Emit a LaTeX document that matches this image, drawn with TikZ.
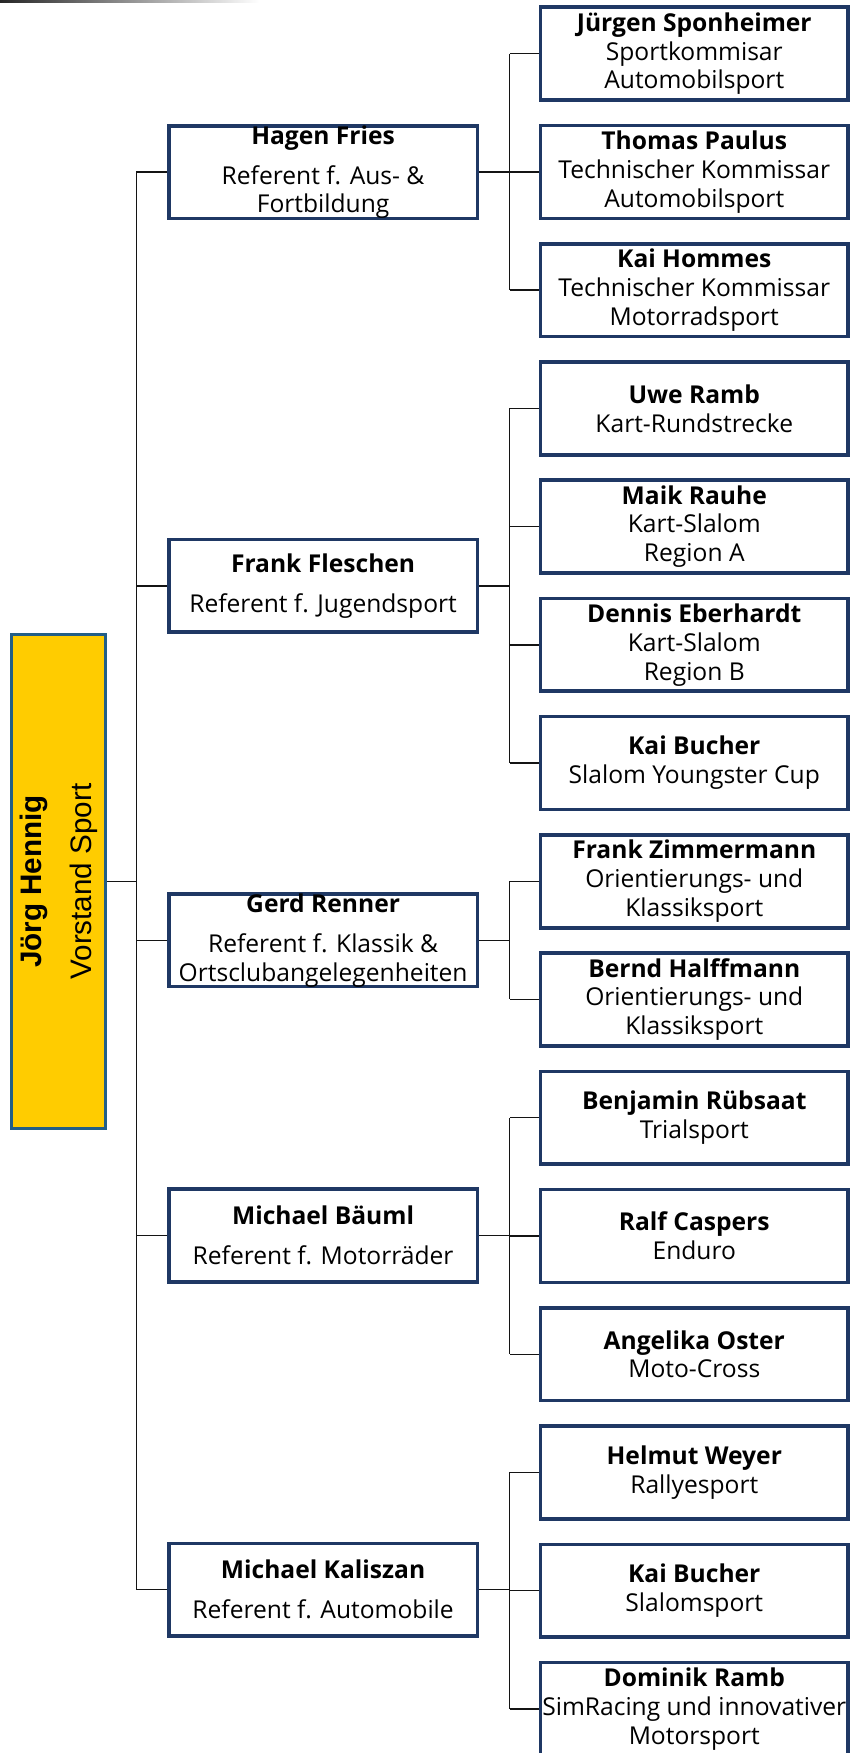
\documentclass[tikz,border=0pt]{standalone}
\usepackage{fontspec}
\setmainfont{Open Sans}
\newfontfamily\rootfont{Liberation Sans}
\definecolor{boxblue}{RGB}{31,56,100}
\definecolor{rootblue}{RGB}{34,94,135}
\definecolor{gold}{RGB}{255,204,0}
\definecolor{linegray}{RGB}{20,20,20}
\tikzset{
  midbox/.style={draw=boxblue, line width=3.2pt, fill=white, minimum width=276pt, minimum height=83pt, inner sep=0pt},
  leafbox/.style={draw=boxblue, line width=3.2pt, fill=white, minimum width=275pt, minimum height=83pt, inner sep=0pt},
  rootbox/.style={draw=rootblue, line width=3pt, fill=gold, minimum width=84pt, minimum height=442pt, inner sep=0pt},
  txt/.style={inner sep=0pt, align=center, font=\fontsize{22}{25.8}\selectfont, text=black},
  roottxt/.style={inner sep=0pt, align=center, rotate=90, font=\rootfont\fontsize{26.5}{30}\selectfont, text=black},
  conn/.style={draw=linegray, line width=1.2pt}
}
\begin{document}
\begin{tikzpicture}[x=1pt,y=-1pt]
\useasboundingbox (0,0) rectangle (761.2,1568);
\shade[left color=black!85, right color=white] (0,0) rectangle (232,2.2);

% coordinates for the vertical bus lines
\coordinate (tx) at (122,0);
\coordinate (gx) at (456,0);

% root
\node[rootbox] (root) at (52.5,788.5) {};
\node[roottxt] (roott) at (root) {\textbf{Jörg Hennig}\\[15pt]Vorstand Sport};

% middle level
\node[midbox] (m1) at (289,154) {};
\node[txt] (m1t) at (m1) {\textbf{Hagen Fries}\\[10pt]Referent f. Aus- \&\\Fortbildung};
\node[midbox] (m2) at (289,524) {};
\node[txt] (m2t) at (m2) {\textbf{Frank Fleschen}\\[10pt]Referent f. Jugendsport};
\node[midbox] (m3) at (289,841) {};
\node[txt] (m3t) at (m3) {\textbf{Gerd Renner}\\[10pt]Referent f. Klassik \&\\Ortsclubangelegenheiten};
\node[midbox] (m4) at (289,1105) {};
\node[txt] (m4t) at (m4) {\textbf{Michael Bäuml}\\[10pt]Referent f. Motorräder};
\node[midbox] (m5) at (289,1422) {};
\node[txt] (m5t) at (m5) {\textbf{Michael Kaliszan}\\[10pt]Referent f. Automobile};

% leaves
\node[leafbox] (l1) at (621,48) {};
\node[txt] (l1t) at (l1) {\textbf{Jürgen Sponheimer}\\Sportkommisar\\Automobilsport};
\node[leafbox] (l2) at (621,153.8) {};
\node[txt] (l2t) at (l2) {\textbf{Thomas Paulus}\\Technischer Kommissar\\Automobilsport};
\node[leafbox] (l3) at (621,259.5) {};
\node[txt] (l3t) at (l3) {\textbf{Kai Hommes}\\Technischer Kommissar\\Motorradsport};
\node[leafbox] (l4) at (621,365.3) {};
\node[txt] (l4t) at (l4) {\textbf{Uwe Ramb}\\Kart-Rundstrecke};
\node[leafbox] (l5) at (621,471) {};
\node[txt] (l5t) at (l5) {\textbf{Maik Rauhe}\\Kart-Slalom\\Region A};
\node[leafbox] (l6) at (621,576.8) {};
\node[txt] (l6t) at (l6) {\textbf{Dennis Eberhardt}\\Kart-Slalom\\Region B};
\node[leafbox] (l7) at (621,682.5) {};
\node[txt] (l7t) at (l7) {\textbf{Kai Bucher}\\Slalom Youngster Cup};
\node[leafbox] (l8) at (621,788.3) {};
\node[txt] (l8t) at (l8) {\textbf{Frank Zimmermann}\\Orientierungs- und\\Klassiksport};
\node[leafbox] (l9) at (621,894) {};
\node[txt] (l9t) at (l9) {\textbf{Bernd Halffmann}\\Orientierungs- und\\Klassiksport};
\node[leafbox] (l10) at (621,999.8) {};
\node[txt] (l10t) at (l10) {\textbf{Benjamin Rübsaat}\\Trialsport};
\node[leafbox] (l11) at (621,1105.5) {};
\node[txt] (l11t) at (l11) {\textbf{Ralf Caspers}\\Enduro};
\node[leafbox] (l12) at (621,1211.3) {};
\node[txt] (l12t) at (l12) {\textbf{Angelika Oster}\\Moto-Cross};
\node[leafbox] (l13) at (621,1317) {};
\node[txt] (l13t) at (l13) {\textbf{Helmut Weyer}\\Rallyesport};
\node[leafbox] (l14) at (621,1422.8) {};
\node[txt] (l14t) at (l14) {\textbf{Kai Bucher}\\Slalomsport};
\node[leafbox] (l15) at (621,1528.5) {};
\node[txt] (l15t) at (l15) {\textbf{Dominik Ramb}\\SimRacing und innovativer\\Motorsport};

% connectors: root to middle level
\draw[conn] (root.east) -- (root.east -| tx);
\draw[conn] (m1.west -| tx) -- (m5.west -| tx);
\foreach \m in {m1,m2,m3,m4,m5} \draw[conn] (\m.west) -- (\m.west -| tx);

% middle to leaves
\foreach \m in {m1,m2,m3,m4,m5} \draw[conn] (\m.east) -- (\m.east -| gx);
\draw[conn] (l1.west -| gx) -- (l3.west -| gx);
\draw[conn] (l4.west -| gx) -- (l7.west -| gx);
\draw[conn] (l8.west -| gx) -- (l9.west -| gx);
\draw[conn] (l10.west -| gx) -- (l12.west -| gx);
\draw[conn] (l13.west -| gx) -- (l15.west -| gx);
\foreach \l in {l1,l2,l3,l4,l5,l6,l7,l8,l9,l10,l11,l12,l13,l14,l15} \draw[conn] (\l.west) -- (\l.west -| gx);
\end{tikzpicture}
\end{document}
